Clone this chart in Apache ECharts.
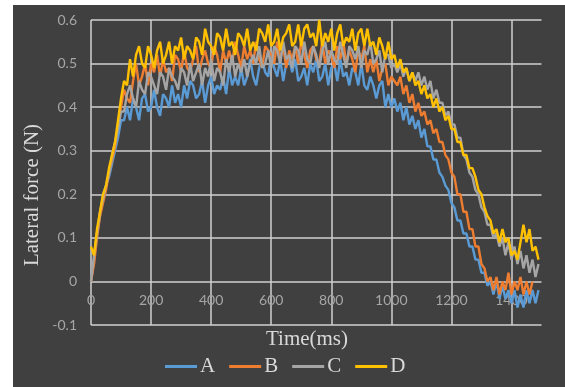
<!DOCTYPE html>
<html><head><meta charset="utf-8">
<script src="https://cdn.jsdelivr.net/npm/echarts@6/dist/echarts.min.js"></script>
<style>html,body{margin:0;padding:0;background:#fff}#c{width:565px;height:387px}</style>
</head><body><div id="c"></div>
<script>
const STEP_MS = 10;
const seriesNames = ['A','B','C','D'];
const yTicks = [-0.1, 0, 0.1, 0.2, 0.3, 0.4, 0.5, 0.6];
const xTicks = [0, 200, 400, 600, 800, 1000, 1200, 1400];
const valuesA = [
0.00,0.05,0.11,0.15,0.20,0.22,0.24,0.27,0.30,0.33,
0.37,0.37,0.40,0.37,0.42,0.40,0.37,0.42,0.43,0.39,
0.40,0.44,0.40,0.38,0.43,0.42,0.40,0.45,0.41,0.43,
0.40,0.45,0.42,0.46,0.45,0.42,0.43,0.46,0.41,0.45,
0.47,0.43,0.45,0.44,0.47,0.43,0.49,0.45,0.47,0.45,
0.49,0.45,0.47,0.51,0.47,0.45,0.49,0.51,0.48,0.47,
0.52,0.49,0.47,0.51,0.46,0.50,0.51,0.48,0.51,0.46,
0.47,0.49,0.45,0.50,0.48,0.51,0.46,0.47,0.50,0.45,
0.49,0.50,0.46,0.51,0.47,0.48,0.45,0.49,0.48,0.45,
0.50,0.45,0.44,0.47,0.45,0.42,0.45,0.46,0.40,0.43,
0.40,0.42,0.39,0.41,0.37,0.40,0.36,0.38,0.35,0.37,
0.33,0.35,0.31,0.31,0.28,0.28,0.25,0.24,0.22,0.21,
0.18,0.17,0.14,0.14,0.11,0.11,0.08,0.08,0.05,0.05,
0.02,0.02,-0.01,0.00,-0.03,0.00,-0.04,-0.01,-0.04,-0.02,
-0.05,-0.02,-0.06,-0.03,-0.06,-0.02,-0.05,-0.02,-0.05,-0.02];
const valuesB = [
0.00,0.04,0.10,0.15,0.18,0.21,0.25,0.28,0.31,0.36,
0.40,0.44,0.42,0.41,0.46,0.50,0.45,0.47,0.50,0.45,
0.50,0.48,0.52,0.47,0.51,0.48,0.49,0.46,0.52,0.51,
0.48,0.53,0.49,0.48,0.51,0.54,0.48,0.51,0.53,0.50,
0.49,0.54,0.52,0.48,0.53,0.50,0.53,0.50,0.55,0.52,
0.49,0.54,0.51,0.53,0.50,0.55,0.51,0.49,0.54,0.53,
0.52,0.50,0.55,0.51,0.54,0.49,0.53,0.51,0.54,0.50,
0.55,0.52,0.49,0.53,0.54,0.51,0.50,0.55,0.50,0.53,
0.52,0.49,0.54,0.51,0.55,0.50,0.53,0.51,0.48,0.53,
0.51,0.54,0.48,0.51,0.48,0.51,0.46,0.49,0.50,0.45,
0.47,0.46,0.45,0.47,0.43,0.45,0.41,0.43,0.39,0.41,
0.38,0.39,0.36,0.37,0.34,0.35,0.32,0.32,0.29,0.28,
0.25,0.24,0.20,0.20,0.16,0.16,0.12,0.12,0.08,0.08,
0.04,0.03,0.00,0.01,-0.02,0.01,-0.03,0.00,-0.02,0.02,
-0.03,0.00,-0.02,0.01,-0.03,0.00,-0.03,0.00];
const valuesC = [
0.00,0.06,0.11,0.16,0.19,0.22,0.25,0.29,0.32,0.35,
0.39,0.39,0.43,0.45,0.42,0.40,0.46,0.44,0.43,0.48,
0.47,0.45,0.43,0.48,0.47,0.44,0.49,0.47,0.46,0.44,
0.49,0.48,0.45,0.50,0.46,0.48,0.50,0.45,0.49,0.47,
0.51,0.46,0.49,0.48,0.45,0.51,0.48,0.52,0.47,0.50,
0.48,0.51,0.47,0.50,0.52,0.50,0.54,0.49,0.50,0.53,
0.49,0.54,0.53,0.50,0.55,0.51,0.52,0.49,0.54,0.53,
0.50,0.55,0.51,0.50,0.54,0.52,0.49,0.53,0.55,0.50,
0.53,0.51,0.50,0.55,0.52,0.49,0.54,0.53,0.51,0.54,
0.49,0.53,0.52,0.55,0.50,0.51,0.53,0.48,0.52,0.52,
0.49,0.50,0.48,0.50,0.47,0.49,0.46,0.48,0.46,0.48,
0.45,0.47,0.44,0.46,0.42,0.44,0.41,0.41,0.38,0.39,
0.36,0.36,0.33,0.33,0.29,0.28,0.25,0.24,0.21,0.20,
0.17,0.16,0.13,0.13,0.10,0.11,0.08,0.10,0.06,0.09,
0.05,0.08,0.04,0.07,0.03,0.06,0.02,0.05,0.01,0.04];
const valuesD = [
0.08,0.06,0.12,0.16,0.20,0.22,0.26,0.29,0.32,0.37,
0.42,0.46,0.45,0.51,0.47,0.52,0.54,0.50,0.49,0.54,
0.52,0.49,0.53,0.55,0.50,0.52,0.55,0.50,0.54,0.53,
0.56,0.51,0.54,0.53,0.51,0.56,0.55,0.52,0.58,0.55,
0.54,0.52,0.57,0.56,0.53,0.58,0.54,0.55,0.52,0.57,
0.56,0.54,0.58,0.53,0.55,0.53,0.58,0.57,0.55,0.59,
0.54,0.55,0.58,0.53,0.56,0.57,0.59,0.54,0.55,0.59,
0.54,0.58,0.59,0.56,0.57,0.54,0.60,0.54,0.57,0.55,
0.58,0.53,0.57,0.59,0.54,0.56,0.55,0.58,0.53,0.57,
0.58,0.54,0.58,0.54,0.55,0.52,0.56,0.54,0.51,0.55,
0.51,0.52,0.49,0.51,0.48,0.49,0.46,0.48,0.45,0.46,
0.43,0.45,0.42,0.43,0.40,0.42,0.39,0.40,0.37,0.38,
0.35,0.35,0.32,0.32,0.29,0.29,0.26,0.26,0.24,0.21,
0.20,0.17,0.15,0.14,0.11,0.12,0.09,0.12,0.09,0.10,
0.06,0.07,0.05,0.09,0.13,0.09,0.12,0.07,0.08,0.05];
const colors = ['#5B9BD5','#ED7D31','#A5A5A5','#FFC000'];
const allValues = [valuesA, valuesB, valuesC, valuesD];

function toPairs(vals){ return vals.map((v,i)=>[i*STEP_MS, v]); }

const chart = echarts.init(document.getElementById('c'), null, {renderer:'canvas'});
const gridColor = '#d0d0d0';
const labelColor = '#a6a6a6';
const titleColor = '#d9d9d9';
chart.setOption({
  animation:false,
  backgroundColor:'#ffffff',
  graphic:[
    {type:'rect', z:-10, shape:{x:13,y:5,width:552,height:382}, style:{fill:'#404040'}},
    {type:'text', z:10, x:307, y:339, style:{text:'Time(ms)', fill:titleColor, font:'21px "Liberation Serif"', textAlign:'center', textVerticalAlign:'middle'}},
    {type:'text', z:10, x:32, y:195, rotation:Math.PI/2, style:{text:'Lateral force (N)', fill:titleColor, font:'21px "Liberation Serif"', textAlign:'center', textVerticalAlign:'middle'}}
  ],
  grid:{left:91, right:23.5, top:20, bottom:62, containLabel:false},
  legend:{
    data:seriesNames, left:165, top:356, padding:0, icon:'rect', itemWidth:32, itemHeight:3, itemGap:14,
    textStyle:{color:titleColor, fontFamily:'Liberation Serif', fontSize:21, lineHeight:21, padding:[0,0,0,-2]}
  },
  xAxis:{
    type:'value', min:0, max:1500, interval:200,
    axisLine:{show:false},
    axisTick:{show:false},
    axisLabel:{inside:true, color:labelColor, fontFamily:'Lato', fontSize:14, margin:18, showMaxLabel:false,
      formatter:v=> xTicks.includes(v) ? String(v) : ''},
    splitLine:{show:true, showMaxLine:false, lineStyle:{color:gridColor, width:1.5}}
  },
  yAxis:{
    type:'value', min:-0.1, max:0.6, interval:0.1,
    axisLine:{show:false}, axisTick:{show:false},
    axisLabel:{color:labelColor, fontFamily:'Lato', fontSize:14, margin:14,
      formatter:v=>{ const r = Math.round(v*10)/10; return yTicks.includes(r) ? String(r) : ''; }},
    splitLine:{show:true, lineStyle:{color:gridColor, width:1.5}}
  },
  series: seriesNames.map((n,i)=>({
    name:n, type:'line', showSymbol:false, symbol:'none',
    data: toPairs(allValues[i]),
    lineStyle:{color:colors[i], width:2.4}, itemStyle:{color:colors[i]},
    z: 2+i
  }))
});
</script></body></html>
